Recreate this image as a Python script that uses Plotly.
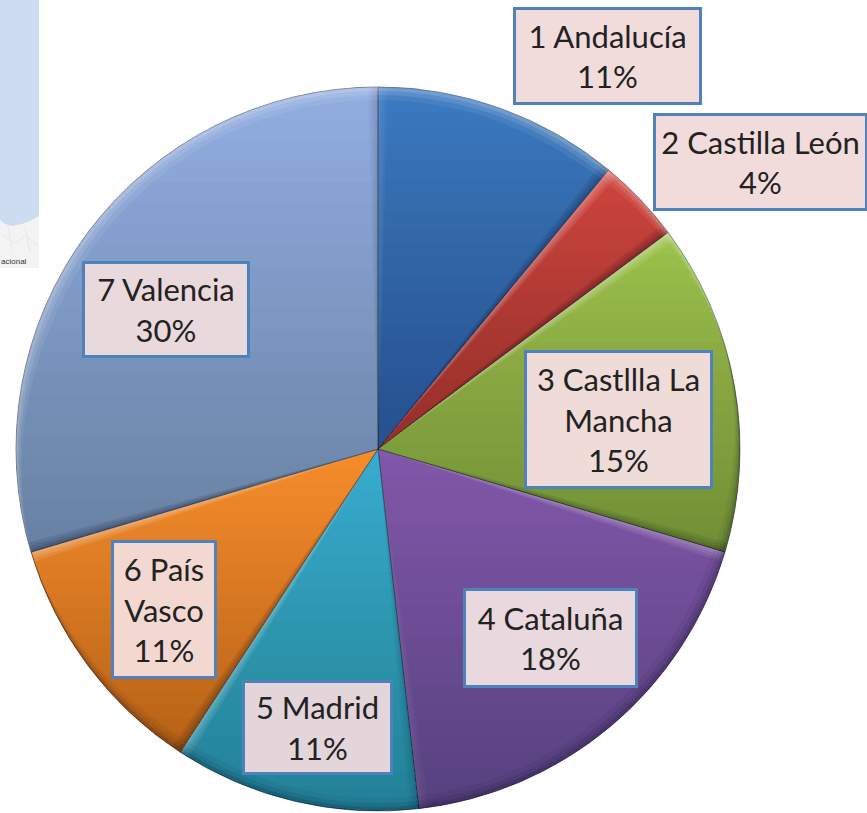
import math
import plotly.graph_objects as go

W, H = 867, 813
CX, CY, R = 378, 449, 362

regions = ["1 Andalucía", "2 Castilla León", "3 Castllla La<br>Mancha", "4 Cataluña", "5 Madrid", "6 País<br>Vasco", "7 Valencia"]
values = [11, 3.8, 14.8, 18.6, 11, 11.2, 29.6]
shown_pct = [11, 4, 15, 18, 11, 11, 30]
base_colors = ["#3b7ac2", "#d0443e", "#9cc44b", "#8259ab", "#38aed0", "#f78d2c", "#92afe2"]
box_colors = ["#f2dcdb", "#f2dcdb", "#efdcd8", "#e9d8dd", "#e3d5da", "#f2d8d0", "#e9d8dc"]
box_x = [607.5, 760.5, 618.5, 550.5, 317.5, 164, 166]
box_y = [56, 162, 419.5, 638, 727.5, 609.5, 309.5]
box_w = [189, 215, 189, 175, 151, 106, 168]
box_h = [98, 98, 139, 100, 95, 139, 97]
SHADE = 0.22
BANDS = 22


def px(x, y):
    return f"{x / W:.5f},{1 - y / H:.5f}"


def path_of(pts):
    return "M " + " L ".join(px(x, y) for x, y in pts) + " Z"


def pt(theta, r=R):
    return CX + r * math.sin(theta), CY - r * math.cos(theta)


def clip_below(poly, t):
    out = []
    for i, (x1, y1) in enumerate(poly):
        x2, y2 = poly[(i + 1) % len(poly)]
        if y1 >= t:
            out.append((x1, y1))
        if (y1 >= t) != (y2 >= t):
            u = (t - y1) / (y2 - y1)
            out.append((x1 + u * (x2 - x1), t))
    return out


def add_shape(shapes, pts, color):
    shapes.append(dict(type="path", xref="paper", yref="paper", path=path_of(pts), layer="above",
                       fillcolor=color, line=dict(width=0)))


fig = go.Figure()
fig.add_trace(go.Pie(values=values, labels=regions, sort=False, direction="clockwise", rotation=0,
                     domain=dict(x=[(CX - R) / W, (CX + R) / W], y=[1 - (CY + R) / H, 1 - (CY - R) / H]),
                     textinfo="none", hoverinfo="label", showlegend=False,
                     marker=dict(colors=base_colors, line=dict(color="rgba(30,30,50,0.5)", width=1))))

shapes = []
total = sum(values)
edges = [0]
for v in values:
    edges.append(edges[-1] + v / total * 2 * math.pi)

# each slice darkens from its own top to its own bottom
band_alpha = 1 - (1 - SHADE) ** (1 / BANDS)
for a0, a1 in zip(edges[:-1], edges[1:]):
    n = 40
    wedge = [(CX, CY)] + [pt(a0 + (a1 - a0) * k / n) for k in range(n + 1)]
    ys = [p[1] for p in wedge]
    for b in range(BANDS):
        t = min(ys) + (max(ys) - min(ys)) * (b + 0.5) / BANDS
        poly = clip_below(wedge, t)
        if len(poly) >= 3:
            add_shape(shapes, poly, f"rgba(10,10,40,{band_alpha:.4f})")

# soft bevel along the straight edges of every slice, tapering towards the centre
lx, ly = -0.35, -0.94
for a0, a1 in zip(edges[:-1], edges[1:]):
    for theta, sgn in ((a0, 1), (a1, -1)):
        nx, ny = sgn * math.cos(theta), sgn * math.sin(theta)  # into the slice
        lit = -(nx * lx + ny * ly)
        color = f"rgba(255,255,255,{0.10 * max(lit, 0):.3f})" if lit > 0 else f"rgba(0,0,20,{0.09 * max(-lit, 0.4):.3f})"
        ox, oy = pt(theta, R - 1)
        for w in (2, 4, 7, 10):
            add_shape(shapes, [(CX, CY), (ox, oy), (ox + nx * w, oy + ny * w)], color)

# soft bevel along the round edge: light on top, dark at the bottom
for wmax, light_a, dark_a in ((4, 0.14, 0.12), (8, 0.10, 0.08), (13, 0.07, 0.05)):
    for top, color in ((True, f"rgba(255,255,255,{light_a})"), (False, f"rgba(0,0,20,{dark_a})")):
        outer, inner = [], []
        for k in range(181):
            th = 2 * math.pi * k / 180
            f = math.cos(th + 0.3)
            f = max(f, 0) if top else max(-f, 0)
            f = min(1, f * 1.6)
            if f > 0:
                outer.append(pt(th))
                inner.append(pt(th, R - wmax * f))
        if top:
            order = list(range(len(outer)))
            gap = max(range(1, len(outer)), key=lambda i: abs(outer[i][0] - outer[i - 1][0]) + abs(outer[i][1] - outer[i - 1][1]))
            order = order[gap:] + order[:gap]
            outer = [outer[i] for i in order]
            inner = [inner[i] for i in order]
        add_shape(shapes, outer + inner[::-1], color)

# map fragment at the left edge
shapes.append(dict(type="rect", xref="paper", yref="paper", x0=0, x1=39 / W, y0=1 - 268 / H, y1=1,
                   fillcolor="#f3f3f4", line=dict(width=0), layer="below"))
coast = [(0, 0), (39, 0), (39, 216), (30, 221), (22, 224), (12, 226), (5, 224), (0, 220)]
shapes.append(dict(type="path", xref="paper", yref="paper", layer="below", line=dict(width=0), fillcolor="#cedcf2",
                   path=path_of(coast)))
for road in ([(3, 235), (14, 243), (26, 236), (38, 246)], [(8, 226), (12, 250)], [(25, 226), (30, 252)]):
    shapes.append(dict(type="path", xref="paper", yref="paper", layer="below", line=dict(width=0.6, color="#dfdfe2"),
                       path="M " + " L ".join(px(x, y) for x, y in road)))

annotations = [dict(x=0, y=1 - 261 / H, xref="paper", yref="paper", text="acional", showarrow=False,
                    xanchor="left", yanchor="middle", borderpad=0, font=dict(family="Liberation Sans", size=8, color="#333333"))]
for name, pct, x, y, w, h, c in zip(regions, shown_pct, box_x, box_y, box_w, box_h, box_colors):
    annotations.append(dict(x=x / W, y=1 - y / H, xref="paper", yref="paper", text=f"{name}<br>{pct}%",
                            showarrow=False, xanchor="center", yanchor="middle", align="center",
                            width=w - 6, height=h - 6, bgcolor=c, bordercolor="#4f81bd", borderwidth=3,
                            borderpad=0, font=dict(family="Lato", size=31, color="#222222")))

fig.update_layout(width=W, height=H, margin=dict(l=0, r=0, t=0, b=0), paper_bgcolor="white",
                  shapes=shapes, annotations=annotations, showlegend=False)
fig.write_html("out.html", config={"displayModeBar": False}, post_script="document.body.style.margin='0';")
